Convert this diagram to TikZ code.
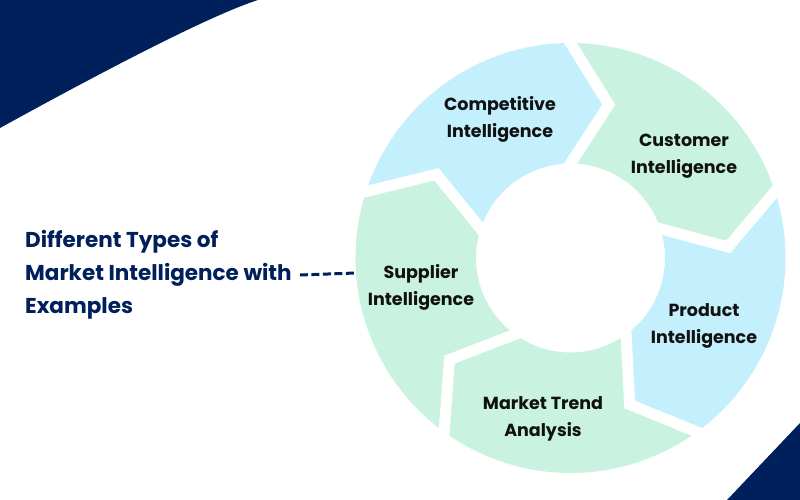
\documentclass[tikz,border=0pt]{standalone}
\usepackage{fontspec}
\setmainfont{Poppins}
\definecolor{navy}{RGB}{0,32,91}
\definecolor{segblue}{RGB}{195,240,252}
\definecolor{seggreen}{RGB}{201,243,224}
\definecolor{labelink}{RGB}{17,17,17}
\tikzset{
  seglabel/.style={font=\fontsize{17.5}{27}\selectfont\bfseries, text=labelink, align=center, inner sep=0pt},
  titletext/.style={font=\fontsize{21.5}{33}\selectfont\bfseries, text=navy, align=left, inner sep=0pt, anchor=west},
  gapline/.style={white, line width=11pt, line join=miter, line cap=rect},
  dashlink/.style={navy, line width=3pt, dash pattern=on 8pt off 3.5pt}
}
\begin{document}
\begin{tikzpicture}[x=1pt,y=1pt]
\useasboundingbox (0,0) rectangle (800,500);
\fill[white] (0,0) rectangle (800,500);
% corner shapes
\fill[navy] (0,500) -- (0,372) .. controls (131.3,444.3) and (217.3,486.9) .. (258,500) -- cycle;
\fill[navy] (800,77) -- (800,0) -- (727,0) -- cycle;
% ring
\begin{scope}[shift={(570.5,242)}]
  \foreach \a/\c in {162/segblue, 90/seggreen, 18/segblue, -54/seggreen, -126/seggreen}{
    \pgfmathsetmacro{\b}{\a-72}
    \pgfmathsetmacro{\bt}{\a-86}
    \pgfmathsetmacro{\at}{\a-14}
    \fill[\c] (\a:215pt) arc[start angle=\a, end angle=\b, radius=215pt]
      -- (\bt:158pt) -- (\b:94.5pt)
      arc[start angle=\b, end angle=\a, radius=94.5pt]
      -- (\at:158pt) -- cycle;
  }
  \foreach \g in {90,18,-54,-126,162}{
    \pgfmathsetmacro{\gt}{\g-14}
    \draw[gapline] (\g:215pt) -- (\gt:158pt) -- (\g:94.5pt);
  }
  \coordinate (ringleft) at (-214.5,-15);
\end{scope}
% labels
\node[seglabel] (competitive) at (500,381) {Competitive\\Intelligence};
\node[seglabel] (customer) at (684,344) {Customer\\Intelligence};
\node[seglabel] (product) at (704,174) {Product\\Intelligence};
\node[seglabel] (market) at (543,81) {Market Trend\\Analysis};
\node[seglabel] (supplier) at (421,213) {Supplier\\Intelligence};
% title
\node[titletext] (title) at (25,225) {Different Types of\\Market Intelligence with\\Examples};
\draw[dashlink] ([xshift=8pt]title.east) -- (ringleft);
\end{tikzpicture}
\end{document}
